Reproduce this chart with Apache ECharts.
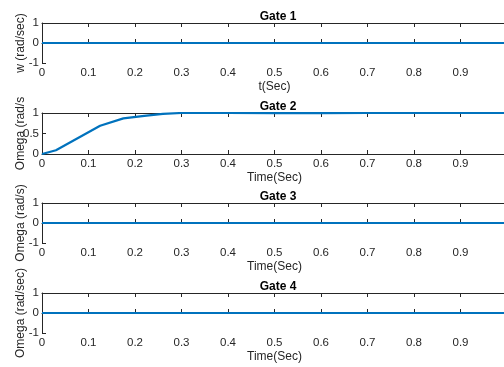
<!DOCTYPE html>
<html>
<head>
<meta charset="utf-8">
<script src="https://cdn.jsdelivr.net/npm/echarts@6/dist/echarts.min.js"></script>
<style>
  html, body { margin: 0; padding: 0; background: #fff; }
  #chart { width: 504px; height: 367px; }
</style>
</head>
<body>
<div id="chart"></div>
<script>
// gate responses
const titles = ["Gate 1", "Gate 2", "Gate 3", "Gate 4"];
const yNames = ["w (rad/sec)", "Omega (rad/s", "Omega (rad/s)", "Omega (rad/sec)"];
const xNames = ["t(Sec)", "Time(Sec)", "Time(Sec)", "Time(Sec)"];

const gate1T = [0, 0.25, 0.5, 0.75, 1.0];
const gate1W = [0, 0, 0, 0, 0];

const gate2T = [0, 0.03, 0.125, 0.175, 0.22, 0.26, 0.3, 0.4, 0.5, 0.55, 0.6, 0.7, 0.8, 0.9, 1.0];
const gate2W = [0, 0.09, 0.69, 0.87, 0.93, 0.98, 1.0, 1.0, 0.998, 0.995, 0.998, 1.0, 1.0, 1.0, 1.0];

const gate3T = [0, 0.25, 0.5, 0.75, 1.0];
const gate3W = [0, 0, 0, 0, 0];

const gate4T = [0, 0.25, 0.5, 0.75, 1.0];
const gate4W = [0, 0, 0, 0, 0];

const yMins = [-1, 0, -1, -1];
const yMaxs = [1, 1, 1, 1];
const yIntervals = [1, 0.5, 1, 1];

const series = [[gate1T, gate1W], [gate2T, gate2W], [gate3T, gate3W], [gate4T, gate4W]];

const tops = [23, 113, 203, 293];
const heights = [40, 41, 40, 40];
const font = "'Liberation Sans', Arial, sans-serif";
const ink = "#262626";

const chart = echarts.init(document.getElementById("chart"));

const grid = [], xAxis = [], yAxis = [], title = [], lines = [];
titles.forEach((t, i) => {
  grid.push({
    left: 42, right: -3, top: tops[i], height: heights[i],
    containLabel: false, outerBoundsMode: "none"
  });
  title.push({
    text: t, left: 273, top: tops[i] - 17, textAlign: "center",
    textStyle: { fontFamily: font, fontSize: 12, fontWeight: "bold", color: "#000" }
  });
  const xBase = {
    type: "value", gridIndex: i, min: 0, max: 1, interval: 0.1,
    splitLine: { show: false },
    axisLine: { lineStyle: { color: ink, width: 1 } },
    axisTick: { inside: true, length: 4, lineStyle: { color: ink } }
  };
  xAxis.push({
    ...xBase, position: "bottom",
    name: xNames[i], nameLocation: "middle", nameGap: 18, nameMoveOverlap: false,
    nameTextStyle: { fontFamily: font, fontSize: 12, color: ink },
    axisLabel: {
      fontFamily: font, fontSize: 11.5, color: ink, margin: 4, showMaxLabel: false,
      formatter: (v) => String(+v.toFixed(1))
    }
  });
  xAxis.push({ ...xBase, position: "top", axisLabel: { show: false } });
  yAxis.push({
    type: "value", gridIndex: i, min: yMins[i], max: yMaxs[i], interval: yIntervals[i],
    splitLine: { show: false },
    axisLine: { show: true, lineStyle: { color: ink, width: 1 } },
    axisTick: { show: true, inside: true, length: 4, lineStyle: { color: ink } },
    axisLabel: { fontFamily: font, fontSize: 11.5, color: ink, margin: 3 },
    name: yNames[i], nameLocation: "middle", nameGap: 15, nameRotate: 90, nameMoveOverlap: false,
    nameTextStyle: { fontFamily: font, fontSize: 12, color: ink }
  });
  const [ts, ws] = series[i];
  lines.push({
    type: "line", xAxisIndex: i * 2, yAxisIndex: i,
    data: ts.map((x, k) => [x, ws[k]]),
    showSymbol: false, symbol: "none", smooth: false,
    lineStyle: { color: "#0072BD", width: 2.2 },
    silent: true, animation: false
  });
});

chart.setOption({
  animation: false,
  backgroundColor: "#fff",
  title, grid, xAxis, yAxis,
  series: lines
});
</script>
</body>
</html>
